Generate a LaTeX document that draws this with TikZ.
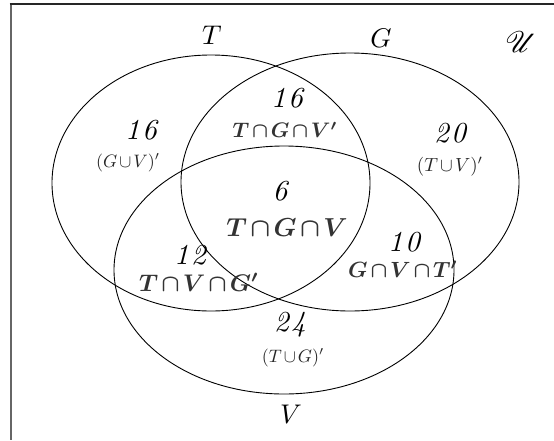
\documentclass[tikz,border=0pt]{standalone}
\usepackage{amssymb}
\IfFileExists{mathrsfs.sty}{\usepackage{mathrsfs}\newcommand{\univ}{\mathscr{U}}}{\newcommand{\univ}{\mathcal{U}}}
\newcommand{\ct}{\mskip2mu{\cap}\mskip2mu}
\newcommand{\cu}{\mskip2mu{\cup}\mskip2mu}
\begin{document}
\begin{tikzpicture}[x=1pt,y=-1pt,
  setline/.style={line width=0.9pt,black},
  setname/.style={scale=2.7,inner sep=0pt},
  num/.style={scale=2.9,font=\itshape,inner sep=0pt},
  lab/.style={scale=#1,font=\boldmath,text=black!80,inner sep=0pt},
  plab/.style={scale=#1,text=black!85,inner sep=0pt}]
\useasboundingbox (0,0) rectangle (554,440);
% frame
\draw[line width=2pt,black!60] (10.5,3) -- (10.5,440);
\draw[line width=2pt,black!85] (9.5,3.5) -- (554,3.5);
% sets
\draw[setline] (211,183) ellipse [x radius=159, y radius=128];
\draw[setline] (350,182) ellipse [x radius=169, y radius=129];
\draw[setline] (284,270) ellipse [x radius=170, y radius=124];
% set names
\node[setname] (nT) at (212,35) {$T$};
\node[setname] (nG) at (381,38) {$G$};
\node[setname,scale=1.1] (nU) at (521,42) {$\univ$};
\node[setname] (nV) at (291,414) {$V$};
% regions
\node[num] (a) at (141,130) {1\kern0.7pt6};
\node[plab=1.8] (al) at (128,163) {$(G\cu V)'$};
\node[num] (b) at (287,98) {1\kern0.7pt6};
\node[lab=2.1] (bl) at (285,130) {$T\ct G\ct V'$};
\node[num] (c) at (450,133) {2\kern0.7pt0};
\node[plab=1.9] (cl) at (450,167) {$(T\cu V)'$};
\node[num] (d) at (280,191) {6};
\node[lab=2.6] (dl) at (287,228) {$T\ct G\ct V$};
\node[num] (e) at (190,255) {1\kern0.7pt2};
\node[lab=2.4] (el) at (199,282) {$T\ct V\ct G'$};
\node[num] (f) at (404,242) {1\kern0.7pt0};
\node[lab=2.2] (fl) at (403,269) {$G\ct V\ct T'$};
\node[num] (g) at (290,325) {2\kern0.7pt4};
\node[plab=1.8] (gl) at (293,358) {$(T\cu G)'$};
\end{tikzpicture}
\end{document}
